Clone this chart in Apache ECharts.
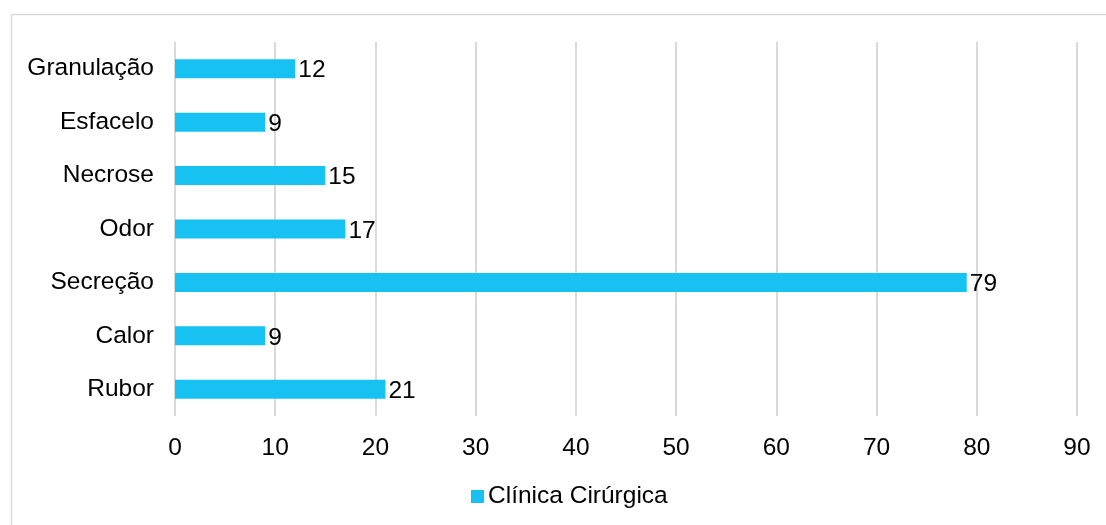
<!DOCTYPE html>
<html>
<head>
<meta charset="utf-8">
<script src="https://cdn.jsdelivr.net/npm/echarts@6/dist/echarts.min.js"></script>
<style>
html,body{margin:0;padding:0;background:#fff;}
#chart{width:1106px;height:525px;}
</style>
</head>
<body>
<div id="chart"></div>
<script>
const categories = ['Rubor', 'Calor', 'Secreção', 'Odor', 'Necrose', 'Esfacelo', 'Granulação'];
const values = [21, 9, 79, 17, 15, 9, 12];
const seriesName = 'Clínica Cirúrgica';

const FONT = 'Liberation Sans, Arial, Helvetica, sans-serif';
const FS = 24.5;
const chart = echarts.init(document.getElementById('chart'), null, {renderer: 'canvas'});
chart.setOption({
  animation: false,
  backgroundColor: '#fff',
  textStyle: {fontFamily: FONT},
  graphic: [{
    type: 'rect',
    shape: {x: 11.5, y: 14.5, width: 1110, height: 530},
    style: {fill: 'none', stroke: '#d9d9d9', lineWidth: 1.5},
    silent: true
  }],
  grid: {left: 175, right: 29, top: 42, bottom: 109, containLabel: false},
  legend: {
    bottom: 11,
    left: 466,
    data: [seriesName],
    icon: 'rect',
    itemWidth: 13,
    itemHeight: 13,
    itemGap: 5,
    textStyle: {fontSize: FS, color: '#000', fontFamily: FONT, padding: [0,0,0,-1]}
  },
  xAxis: {
    type: 'value',
    min: 0, max: 90, interval: 10,
    axisLine: {show: false},
    axisTick: {show: false},
    splitLine: {show: true, lineStyle: {color: '#d9d9d9', width: 2}},
    axisLabel: {fontSize: FS, color: '#000', margin: 20, fontFamily: FONT}
  },
  yAxis: {
    type: 'category',
    data: categories,
    axisLine: {show: false},
    axisTick: {show: false},
    axisLabel: {fontSize: FS, color: '#000', margin: 21, fontFamily: FONT}
  },
  series: [{
    name: seriesName,
    type: 'bar',
    data: values,
    barWidth: 19,
    itemStyle: {color: '#17c1f1'},
    label: {show: true, position: 'right', distance: 3, fontSize: FS, color: '#000', fontFamily: FONT, offset: [0, 2]}
  }]
});
</script>
</body>
</html>
